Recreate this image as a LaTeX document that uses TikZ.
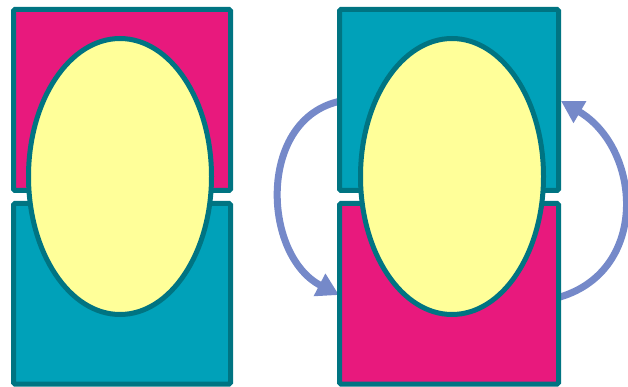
\documentclass[tikz,border=0pt]{standalone}
\usetikzlibrary{shapes.geometric,arrows.meta}
\definecolor{cpink}{HTML}{E8197D}
\definecolor{cteal}{HTML}{00A1B9}
\definecolor{cline}{HTML}{007482}
\definecolor{cyel}{HTML}{FFFF99}
\definecolor{carrow}{HTML}{7589C9}
\tikzset{
  box/.style={rectangle, draw=cline, line width=5pt, rounded corners=1.5pt, inner sep=0pt},
  pinkbox/.style={box, fill=cpink},
  tealbox/.style={box, fill=cteal},
  egg/.style={ellipse, draw=cline, line width=5pt, fill=cyel, inner sep=0pt, minimum width=183pt, minimum height=276pt},
  swap/.style={draw=carrow, line width=7pt, -{Triangle[length=22pt,width=24pt]}}
}
\begin{document}
\begin{tikzpicture}[x=1pt,y=-1pt]
\useasboundingbox (0,0) rectangle (628,387);
% left group
\node[pinkbox, minimum width=217pt, minimum height=181pt] (lt) at (122,100) {};
\node[tealbox, minimum width=217pt, minimum height=180.5pt] (lb) at (122,293.75) {};
\node[egg] (le) at (120,176.5) {};
% right group arrows
\coordinate (a1s) at (341,101);
\coordinate (a1e) at (339,295);
\coordinate (a2s) at (560,297);
\coordinate (a2e) at (561,101);
\draw[swap] (a1s) .. controls (257,118) and (262,255) .. (a1e);
\draw[swap] (a2s) .. controls (650,270) and (641,148) .. (a2e);
% right group
\node[tealbox, minimum width=219pt, minimum height=181pt] (rt) at (449,100) {};
\node[pinkbox, minimum width=219pt, minimum height=180.5pt] (rb) at (449,293.75) {};
\node[egg] (re) at (452,176.5) {};
\end{tikzpicture}
\end{document}
